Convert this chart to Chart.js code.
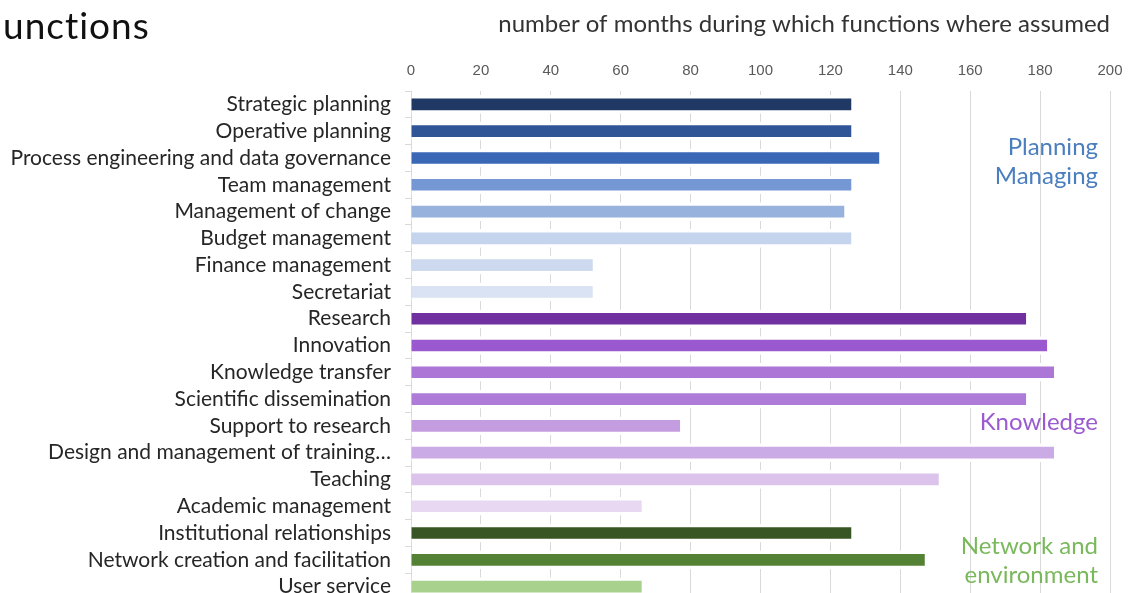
<!DOCTYPE html>
<html>
<head>
<meta charset="utf-8">
<script src="https://cdn.jsdelivr.net/npm/chart.js@4/dist/chart.umd.min.js"></script>
<style>
    html, body { margin: 0; padding: 0; background: #fff; overflow: hidden; }
    #wrap { position: relative; width: 1134px; height: 600px; }
    #heading {
        position: absolute; left: 3px; top: 2px;
        font-family: Lato, "DejaVu Sans", sans-serif; font-size: 37px;
        color: #111; letter-spacing: 1px;
    }
</style>
</head>
<body>
<div id="wrap">
    <canvas id="chart"></canvas>
    <div id="heading">unctions</div>
</div>
<script>
/* DATA */
const functionNames = [
    "Strategic planning",
    "Operative planning",
    "Process engineering and data governance",
    "Team management",
    "Management of change",
    "Budget management",
    "Finance management",
    "Secretariat",
    "Research",
    "Innovation",
    "Knowledge transfer",
    "Scientific dissemination",
    "Support to research",
    "Design and management of training…",
    "Teaching",
    "Academic management",
    "Institutional relationships",
    "Network creation and facilitation",
    "User service"
];

const months = [126, 126, 134, 126, 124, 126, 52, 52, 176, 182, 184, 176, 77, 184, 151, 66, 126, 147, 66];

const barColors = [
    "#203864", "#2f5597", "#3a68b6", "#7598d4", "#97b2dd", "#c5d4ed", "#ccd9ee", "#dae3f3",
    "#7030a0", "#9b59cf", "#ab76d6", "#ae7cd8", "#c49ce0", "#cbabe6", "#dbc3ec", "#e8d8f2",
    "#375623", "#548235", "#a9d18e"
];

const monthTicks = [0, 20, 40, 60, 80, 100, 120, 140, 160, 180, 200];

const axisTitle = "number of months during which functions where assumed";

const groupLabels = ["Planning\nManaging", "Knowledge", "Network and\nenvironment"];
const groupColors = ["#4a7ebf", "#9b5bd0", "#7ab85c"];
const groupAnchors = [2.15, 11.85, 17.05];

/* GROUP LABELS */
const groupLabelPlugin = {
    id: "groupLabels",
    afterDatasetsDraw(chart) {
        const { ctx, chartArea, scales } = chart;
        ctx.save();
        ctx.font = "24px Lato, 'DejaVu Sans', sans-serif";
        ctx.textAlign = "right";
        ctx.textBaseline = "middle";
        groupLabels.forEach((txt, i) => {
            const lines = txt.split("\n");
            const cy = scales.y.getPixelForValue(groupAnchors[i]);
            const lh = 29;
            ctx.fillStyle = groupColors[i];
            lines.forEach((line, j) => {
                const y = cy + (j - (lines.length - 1) / 2) * lh;
                ctx.fillText(line, chartArea.right - 12, y);
            });
        });
        ctx.restore();
    }
};

/* CHART */
new Chart(document.getElementById("chart"), {
    type: "bar",
    data: {
        labels: functionNames,
        datasets: [{
            data: months,
            backgroundColor: barColors,
            borderColor: "#ffffff",
            borderWidth: { top: 3.5, bottom: 3.5, left: 0, right: 0 },
            borderSkipped: false,
            barThickness: 18
        }]
    },
    plugins: [groupLabelPlugin],
    options: {
        indexAxis: "y",
        responsive: true,
        maintainAspectRatio: false,
        animation: false,
        layout: { padding: { left: 0, right: 24, top: 0, bottom: 0 } },
        plugins: {
            legend: { display: false },
            tooltip: { enabled: false }
        },
        scales: {
            x: {
                position: "top",
                min: 0,
                max: 200,
                afterBuildTicks: (scale) => {
                    scale.ticks = monthTicks.map(v => ({ value: v }));
                },
                afterFit: (scale) => { scale.height = 91; },
                ticks: {
                    padding: 11,
                    color: "#595959",
                    font: { family: "'Liberation Sans Narrow', 'Liberation Sans', sans-serif", size: 15 }
                },
                grid: { color: "#d9d9d9", drawTicks: false },
                border: { display: false },
                title: {
                    display: true,
                    text: axisTitle,
                    align: "end",
                    color: "#333333",
                    padding: { top: 10, bottom: 0 },
                    font: { family: "Lato, 'DejaVu Sans', sans-serif", size: 24 }
                }
            },
            y: {
                afterFit: (scale) => {
                    scale.width = 411;
                    scale.paddingTop = 0;
                    scale.paddingBottom = 0;
                },
                ticks: {
                    autoSkip: false,
                    padding: 14,
                    color: "#262626",
                    font: { family: "Lato, 'DejaVu Sans', sans-serif", size: 21 }
                },
                grid: { drawOnChartArea: false, drawTicks: true, tickLength: 6, color: "#d9d9d9" },
                border: { display: true, color: "#d9d9d9" }
            }
        }
    }
});
</script>
</body>
</html>
